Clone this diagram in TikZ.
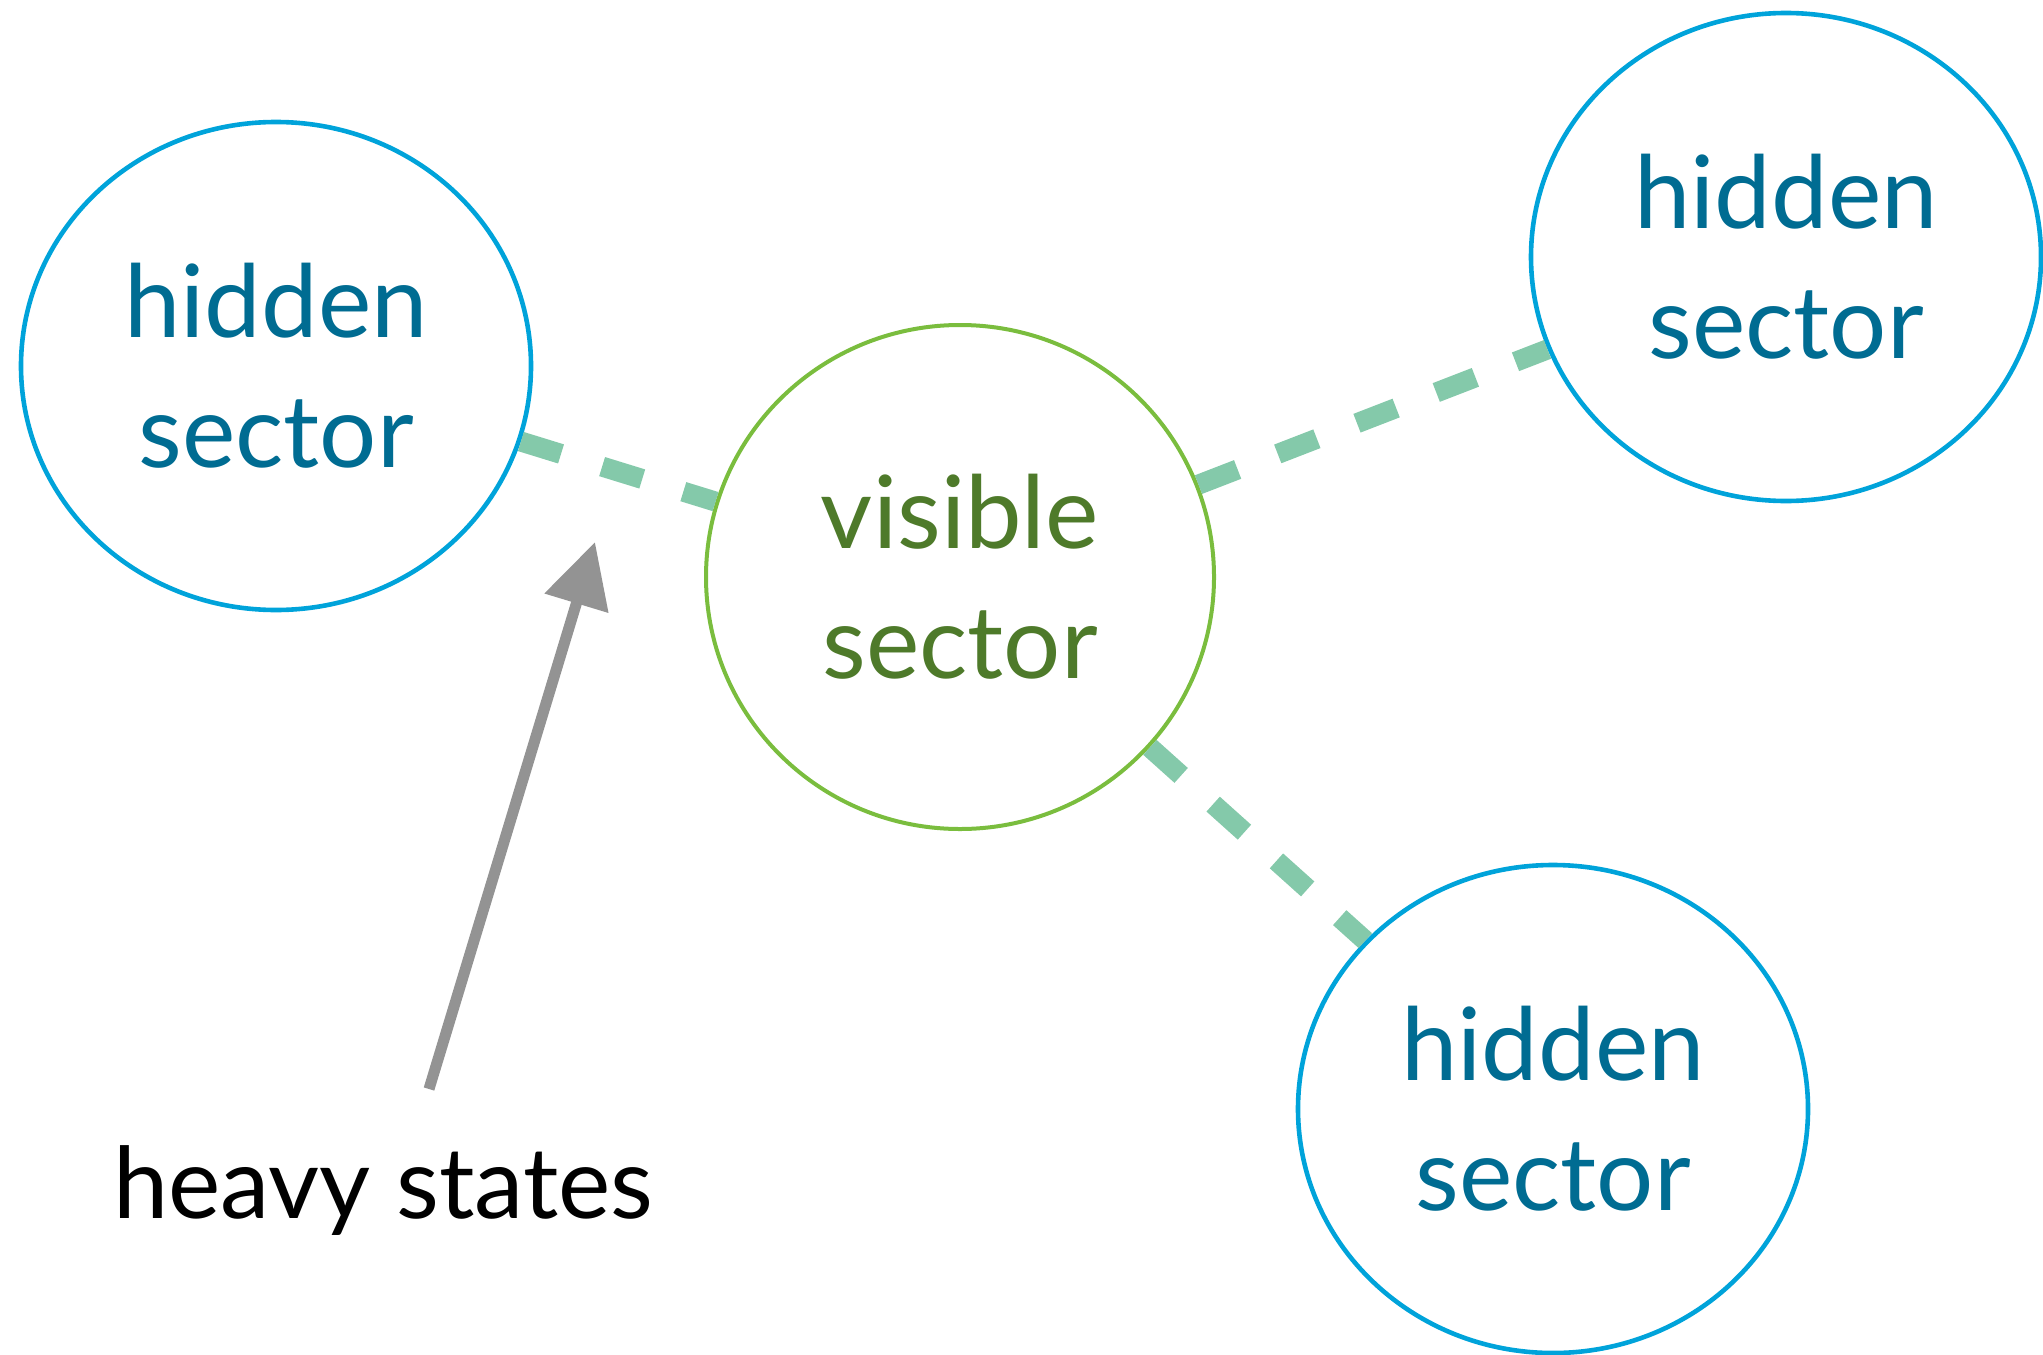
\documentclass[tikz,border=0pt]{standalone}
\usepackage{fontspec}
\setmainfont{Lato}
\usetikzlibrary{arrows.meta,shapes.geometric}

\definecolor{hiddenline}{RGB}{0,163,218}
\definecolor{hiddentext}{RGB}{0,108,146}
\definecolor{visline}{RGB}{122,189,62}
\definecolor{vistext}{RGB}{78,122,42}
\definecolor{linkgreen}{RGB}{132,201,170}
\definecolor{heavygray}{RGB}{147,147,147}

\begin{document}
\begin{tikzpicture}[x=0.5pt,y=-0.5pt,->,>={Triangle[length=32pt,width=32pt]},
  hidden node/.style={ellipse,draw=hiddenline,line width=2.3pt,text=hiddentext,align=center,inner sep=0pt,
    minimum width=255pt,minimum height=244pt,font=\fontsize{50.5}{65}\selectfont},
  visible node/.style={ellipse,draw=visline,line width=2pt,text=vistext,align=center,inner sep=0pt,
    minimum width=254pt,minimum height=252pt,font=\fontsize{50.5}{65}\selectfont},
  link/.style={-,draw=linkgreen,line width=10pt,dash pattern=on 21pt off 21.5pt}]

 \useasboundingbox (0,0) rectangle (2043,1354);

 \node[hidden node] (h1) at (276,366) {hidden\\sector};
 \node[visible node] (vis) at (960,577) {visible\\sector};
 \node[hidden node] (h2) at (1786,257) {hidden\\sector};
 \node[hidden node] (h3) at (1553,1109) {hidden\\sector};

 \node[anchor=base west,font=\fontsize{49.5}{60}\selectfont] (heavy) at (106,1218) {heavy states};
 \coordinate (tail) at (429,1089);
 \coordinate (tip) at (595,542);

 \path[link]
    (h1)	edge (vis)
    (vis)	edge (h2)
    (vis)	edge (h3);

 \draw[draw=heavygray,fill=heavygray,line width=5.5pt] (tail) -- (tip);

\end{tikzpicture}
\end{document}
